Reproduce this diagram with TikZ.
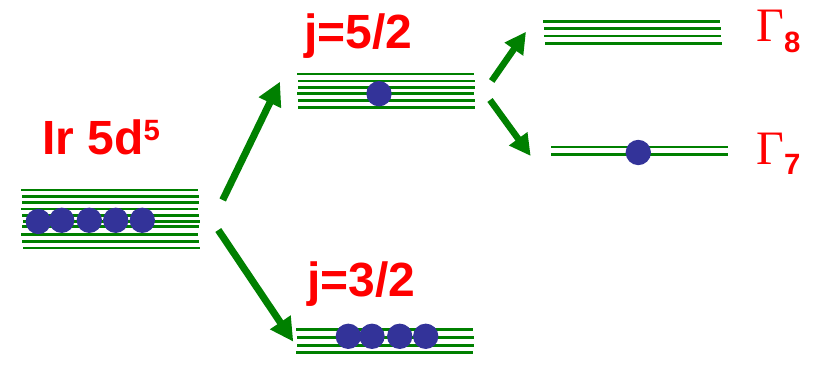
\documentclass[tikz,border=0pt]{standalone}
\usepackage{fontspec}
\setmainfont{Liberation Sans}
\newfontfamily\gammafont{Liberation Serif}
\usetikzlibrary{arrows.meta}
\definecolor{lvlgreen}{HTML}{008000}
\definecolor{elblue}{HTML}{333399}
\definecolor{lblred}{HTML}{FF0000}
\tikzset{
  lvl/.style={draw=lvlgreen, line width=2.1pt},
  elec/.style={circle, fill=elblue, inner sep=0pt, minimum size=19pt},
  bigarrow/.style={draw=lvlgreen, line width=5.3pt, -{Triangle[length=17.5pt,width=17.5pt]}, color=lvlgreen},
  smallarrow/.style={draw=lvlgreen, line width=4.9pt, -{Triangle[length=16pt,width=16pt]}, color=lvlgreen},
  lbl/.style={text=lblred, font=\fontsize{36}{36}\selectfont\bfseries, inner sep=0pt, anchor=base west},
  glbl/.style={text=lblred, inner sep=0pt, anchor=base west}
}
\begin{document}
\begin{tikzpicture}[x=0.75pt, y=-0.75pt]
\useasboundingbox (0,0) rectangle (820,366);
% Ir 5d levels
\foreach \y/\a/\b in {190/21/198, 196.3/22.3/199, 202.3/22.3/199, 209/21/198, 215.3/22.3/199, 221.3/23.3/200, 226.7/22.3/199, 234.7/21/198, 241.3/22.3/199, 248/23.3/200}
  \draw[lvl] (\a,\y) -- (\b,\y);
% j=5/2 levels
\foreach \y/\a/\b in {74/297.3/474, 81/298.3/475, 87.3/298.3/475, 93.3/297.3/474, 100.3/298.3/475, 107.3/298.3/475}
  \draw[lvl] (\a,\y) -- (\b,\y);
% j=3/2 levels
\foreach \y/\a/\b in {329.3/296/473.3, 337.3/297.3/474, 345.3/297.3/474, 352.3/296.3/473.3}
  \draw[lvl] (\a,\y) -- (\b,\y);
% Gamma8 levels
\foreach \y/\a/\b in {21.3/543.3/720, 28.7/544.3/720.7, 36/544.3/720.7, 43.3/545.3/721.7}
  \draw[lvl] (\a,\y) -- (\b,\y);
% Gamma7 levels
\foreach \y/\a/\b in {147/551/728, 154.3/551/728}
  \draw[lvl] (\a,\y) -- (\b,\y);
% electrons
\node[elec] (e1) at (38.3,221.5) {};
\node[elec] (e2) at (61.7,220.3) {};
\node[elec] (e3) at (89.3,220.3) {};
\node[elec] (e4) at (115.7,220.3) {};
\node[elec] (e5) at (142.3,220.3) {};
\node[elec] (f1) at (379,93.7) {};
\node[elec] (g1) at (348.3,336.3) {};
\node[elec] (g2) at (372,336.3) {};
\node[elec] (g3) at (399.7,336.3) {};
\node[elec] (g4) at (425.7,336.3) {};
\node[elec] (h1) at (638.3,152.5) {};
% labels
\node[lbl] (ir) at (42,155) {Ir 5d\raisebox{11pt}{\fontsize{22}{22}\selectfont 5}};
\node[lbl] (j52) at (304,48.3) {j=5/2};
\node[lbl] (j32) at (307,296.7) {j=3/2};
\node[glbl] (g8) at (756,41.7) {{\gammafont\fontsize{36}{36}\selectfont Γ}\raisebox{-8.25pt}{\fontsize{22}{22}\selectfont\bfseries 8}};
\node[glbl] (g7) at (756,165) {{\gammafont\fontsize{36}{36}\selectfont Γ}\raisebox{-7.5pt}{\fontsize{22}{22}\selectfont\bfseries 7}};
% arrow endpoints
\coordinate (a1s) at (222.7,200);
\coordinate (a1e) at (280,81.7);
\coordinate (a2s) at (218.3,230);
\coordinate (a2e) at (293.3,341.7);
\coordinate (a3s) at (491.7,81);
\coordinate (a3e) at (526,31.7);
\coordinate (a4s) at (490,100);
\coordinate (a4e) at (530.7,156);
\draw[bigarrow] (a1s) -- (a1e);
\draw[bigarrow] (a2s) -- (a2e);
\draw[smallarrow] (a3s) -- (a3e);
\draw[smallarrow] (a4s) -- (a4e);
\end{tikzpicture}
\end{document}
